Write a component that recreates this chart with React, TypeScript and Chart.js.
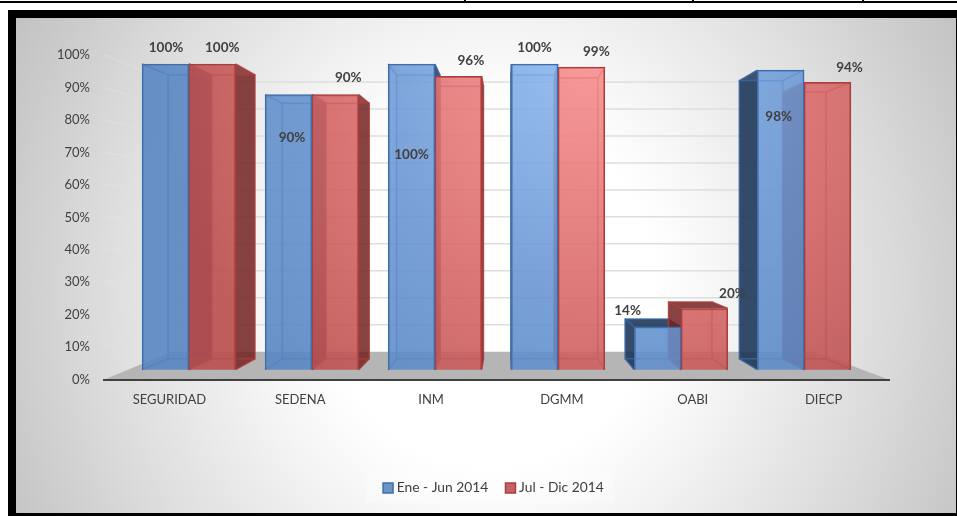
import React, { useEffect, useRef } from "react";
import { Chart, registerables } from "chart.js";

Chart.register(...registerables);

const categories = ["SEGURIDAD", "SEDENA", "INM", "DGMM", "OABI", "DIECP"];
const eneJun = [100, 90, 100, 100, 14, 98];
const julDic = [100, 90, 96, 99, 20, 94];
const yTicks = { min: 0, max: 100, step: 10 };

// label offsets from each bar's top centre (styling only)
const labelOffsets = [
  [[0.6, -16], [3.5, 43.5], [0, 91], [0, -16], [-30, -16], [-2, 47]],
  [[10, -16], [13, -16.5], [12.5, -16], [15, -15], [28, -15], [22, -15]],
];

const FONT = "Lato";
const TEXT = "#404040";
const VP = { x: 506, y: 217, s: 0.0715 };

const palette = [
  {
    edge: "#3f6fa8",
    line: "rgba(55,100,160,0.85)",
    back: "rgba(90,140,205,0.22)",
    inner: "rgba(90,140,205,0.12)",
    dark: "rgba(23,48,81,0.85)",
    stops: ["rgba(140,185,240,0.85)", "rgba(104,149,210,0.86)", "rgba(88,134,194,0.88)"],
  },
  {
    edge: "#ab3d3d",
    line: "rgba(170,60,60,0.85)",
    back: "rgba(215,90,90,0.22)",
    inner: "rgba(215,90,90,0.12)",
    dark: "rgba(109,29,29,0.8)",
    stops: ["rgba(250,142,142,0.85)", "rgba(216,104,104,0.86)", "rgba(186,78,78,0.88)"],
  },
];

const backdrop = {
  id: "backdrop",
  beforeDraw(chart: any) {
    const { ctx, scales, chartArea } = chart;
    ctx.save();
    ctx.fillStyle = "#fff";
    ctx.fillRect(0, 0, 957, 516);
    ctx.fillStyle = "#000";
    ctx.fillRect(0, 1, 957, 2);
    [464, 692, 862].forEach((x) => ctx.fillRect(x, 0, 2, 1));
    ctx.fillRect(8, 10, 949, 506);
    ctx.save();
    ctx.beginPath();
    ctx.rect(16, 18, 940, 495);
    ctx.clip();
    ctx.translate(490, 290);
    ctx.scale(460, 490);
    const g = ctx.createRadialGradient(0, 0, 0, 0, 0, 1.2);
    g.addColorStop(0, "#ffffff");
    g.addColorStop(0.3, "#ffffff");
    g.addColorStop(0.42, "#f6f6f6");
    g.addColorStop(0.71, "#dcdcdc");
    g.addColorStop(0.86, "#cdcdcd");
    g.addColorStop(1, "#c0c0c0");
    ctx.fillStyle = g;
    ctx.fillRect(-2, -2, 4, 4);
    ctx.restore();

    // floor
    const L = chartArea.left;
    const R = chartArea.right;
    const yF = scales.y.getPixelForValue(0);
    const yB = scales.yBack.getPixelForValue(0);
    const backL = 171;
    const backR = 815;
    ctx.fillStyle = "#b5b5b5";
    ctx.beginPath();
    ctx.moveTo(L, yF);
    ctx.lineTo(R, yF);
    ctx.lineTo(backR, yB);
    ctx.lineTo(backL, yB);
    ctx.closePath();
    ctx.fill();

    // walls' gridlines
    scales.y.ticks.forEach((t: any) => {
      if (t.value === 0) return;
      const f = scales.y.getPixelForValue(t.value);
      const b = scales.yBack.getPixelForValue(t.value);
      ctx.strokeStyle = "rgba(228,228,228,0.55)";
      ctx.lineWidth = 1.2;
      ctx.beginPath();
      ctx.moveTo(L, f);
      ctx.lineTo(backL, b);
      ctx.stroke();
      ctx.strokeStyle = "#dedede";
      ctx.lineWidth = 1.5;
      ctx.beginPath();
      ctx.moveTo(backL, b);
      ctx.lineTo(backR, b);
      ctx.stroke();
    });

    // legend plate
    ctx.fillStyle = "rgba(255,255,255,0.3)";
    ctx.fillRect(365, 473, 250, 30);
    ctx.restore();
  },
};

const legendPlace = {
  id: "legendPlace",
  afterLayout(chart: any) {
    const lg = chart.legend;
    lg.left = 300;
    lg.right = 690;
    lg.top = 460.5;
    lg.bottom = 508;
  },
};

const boxes = {
  id: "boxes",
  beforeDatasetsDraw(chart: any) {
    const { ctx } = chart;
    const bp = (x: number, y: number) => [x + (VP.x - x) * VP.s, y + (VP.y - y) * VP.s];
    chart.data.datasets.forEach((_: any, d: number) => {
      const pal = palette[d];
      chart.getDatasetMeta(d).data.forEach((bar: any) => {
        const l = bar.x - bar.width / 2;
        const r = bar.x + bar.width / 2;
        const t = bar.y;
        const b = bar.base;
        const [bl, bt] = bp(l, t);
        const [br, bb] = bp(r, b);
        const poly = (pts: number[][], fill: string) => {
          ctx.beginPath();
          pts.forEach((p, i) => (i ? ctx.lineTo(p[0], p[1]) : ctx.moveTo(p[0], p[1])));
          ctx.closePath();
          ctx.fillStyle = fill;
          ctx.fill();
        };
        ctx.save();
        poly([[bl, bt], [br, bt], [br, bb], [bl, bb]], pal.back);
        poly([[l, b], [r, b], [br, bb], [bl, bb]], pal.inner);
        poly([[l, t], [l, b], [bl, bb], [bl, bt]], bl < l ? pal.dark : pal.inner);
        poly([[r, t], [r, b], [br, bb], [br, bt]], br > r ? pal.dark : pal.inner);
        poly([[l, t], [r, t], [br, bt], [bl, bt]], bt < t ? pal.dark : pal.inner);
        ctx.strokeStyle = pal.line;
        ctx.lineWidth = 1.5;
        ctx.strokeRect(bl, bt, br - bl, bb - bt);
        ctx.beginPath();
        [[l, t, bl, bt], [r, t, br, bt], [l, b, bl, bb], [r, b, br, bb]].forEach((s) => {
          ctx.moveTo(s[0], s[1]);
          ctx.lineTo(s[2], s[3]);
        });
        ctx.stroke();
        ctx.restore();
      });
    });
  },
};

const valueLabels = {
  id: "valueLabels",
  afterDatasetsDraw(chart: any) {
    const { ctx } = chart;
    ctx.save();
    ctx.font = `bold 13.5px ${FONT}`;
    ctx.fillStyle = TEXT;
    ctx.textAlign = "center";
    ctx.textBaseline = "middle";
    chart.data.datasets.forEach((ds: any, d: number) => {
      chart.getDatasetMeta(d).data.forEach((bar: any, i: number) => {
        const [dx, dy] = labelOffsets[d][i];
        ctx.fillText(`${ds.data[i].y}%`, bar.x + dx, bar.y + dy);
      });
    });
    ctx.restore();
  },
};

export default function App() {
  const ref = useRef<HTMLCanvasElement>(null);
  useEffect(() => {
    const canvas = ref.current!;
    const ctx = canvas.getContext("2d")!;
    const fill = (stops: string[]) => {
      const g = ctx.createRadialGradient(590, 60, 0, 590, 60, 430);
      g.addColorStop(0, stops[0]);
      g.addColorStop(0.55, stops[1]);
      g.addColorStop(1, stops[2]);
      return g;
    };
    const chart = new Chart(canvas, {
      type: "bar",
      data: {
        labels: categories,
        datasets: [
          {
            label: "Ene - Jun 2014",
            data: eneJun.map((y, x) => ({ x, y })),
            xAxisID: "xBar",
            yAxisID: "yBar",
            backgroundColor: fill(palette[0].stops),
            borderColor: palette[0].edge,
            borderWidth: 1.5,
            barThickness: 46.8,
          },
          {
            label: "Jul - Dic 2014",
            data: julDic.map((y, x) => ({ x, y })),
            xAxisID: "xBar",
            yAxisID: "yBar",
            backgroundColor: fill(palette[1].stops),
            borderColor: palette[1].edge,
            borderWidth: 1.5,
            barThickness: 46.8,
          },
        ],
      },
      options: {
        responsive: false,
        animation: false,
        layout: { padding: { left: 0, top: 55, right: 68, bottom: 10 } },
        plugins: {
          tooltip: { enabled: false },
          legend: {
            position: "bottom",
            labels: {
              boxWidth: 3.5,
              boxHeight: 10,
              usePointStyle: true,
              pointStyle: "rect",
              padding: 20.5,
              color: TEXT,
              font: { family: FONT, size: 13.8 },
            },
          },
        },
        scales: {
          x: {
            type: "category",
            grid: { display: false, drawTicks: false },
            border: { display: true, color: "#404040", width: 2 },
            ticks: { color: TEXT, font: { family: FONT, size: 13 }, padding: 12, maxRotation: 0 },
            afterFit: (s: any) => {
              s.height = 82;
            },
          },
          y: {
            min: yTicks.min,
            max: yTicks.max,
            grid: { display: false, drawTicks: false },
            border: { display: false },
            ticks: {
              stepSize: yTicks.step,
              color: TEXT,
              padding: 14,
              font: { family: FONT, size: 13 },
              callback: (v: any) => `${v}%`,
            },
            afterFit: (s: any) => {
              s.width = 104;
            },
          },
          xBar: { type: "linear", display: false, offset: false, min: -0.6896, max: 5.69 },
          yBar: { type: "linear", display: false, min: -3.28, max: 102.95 },
          yBack: { type: "linear", display: false, min: -10.41, max: 110.04 },
        },
      } as any,
      plugins: [legendPlace, backdrop, boxes, valueLabels],
    });
    return () => chart.destroy();
  }, []);
  return (
    <div style={{ position: "fixed", left: 0, top: 0, width: 957, height: 516, overflow: "hidden" }}>
      <canvas ref={ref} width={957} height={516} style={{ display: "block" }} />
    </div>
  );
}
